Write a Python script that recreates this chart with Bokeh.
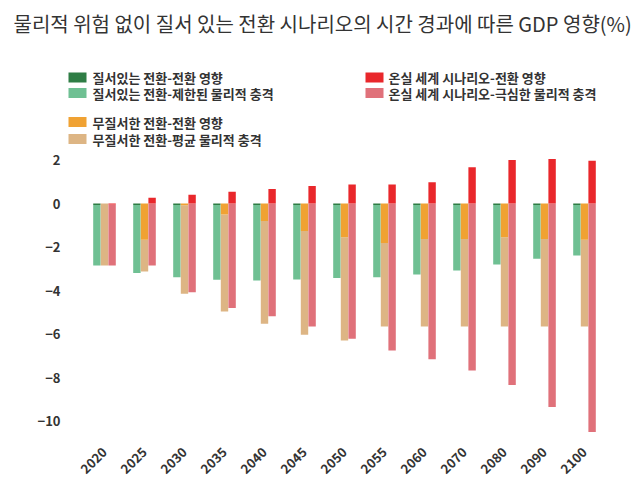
import math
from bokeh.plotting import figure
from bokeh.models import ColumnDataSource, Range1d, FixedTicker
from bokeh.core.properties import value
from bokeh.embed import file_html
from bokeh.resources import INLINE

# ---------------- data ----------------
years = ["2020", "2025", "2030", "2035", "2040", "2045", "2050",
         "2055", "2060", "2070", "2080", "2090", "2100"]

orderly_transition = [-0.07, -0.07, -0.07, -0.07, -0.07, -0.07, -0.07,
                      -0.07, -0.07, -0.07, -0.07, -0.07, -0.07]
orderly_physical = [-2.78, -3.12, -3.32, -3.44, -3.47, -3.42, -3.35,
                    -3.32, -3.19, -3.01, -2.73, -2.47, -2.32]

disorderly_transition = [0.0, -1.67, -0.08, -0.50, -0.81, -1.27, -1.55,
                         -1.82, -1.63, -1.63, -1.55, -1.63, -1.67]
disorderly_physical = [-2.85, -1.46, -4.07, -4.47, -4.72, -4.77, -4.75,
                       -3.84, -4.03, -4.03, -4.11, -4.03, -3.99]

hothouse_transition = [-0.05, 0.26, 0.40, 0.54, 0.67, 0.80, 0.87,
                       0.87, 0.98, 1.67, 2.00, 2.05, 1.96]
hothouse_physical = [-2.80, -2.85, -4.08, -4.80, -5.18, -5.66, -6.22,
                     -6.76, -7.16, -7.68, -8.34, -9.36, -10.51]

y_ticks = [-10, -8, -6, -4, -2, 0, 2]

title_text = "물리적 위험 없이 질서 있는 전환 시나리오의 시간 경과에 따른 GDP 영향(%)"
legend_labels = [
    "질서있는 전환-전환 영향",
    "질서있는 전환-제한된  물리적  충격",
    "무질서한 전환-전환 영향",
    "무질서한 전환-평균 물리적 충격",
    "온실 세계 시나리오-전환 영향",
    "온실 세계 시나리오-극심한 물리적 충격",
]

C_DKGREEN = "#2f7d45"
C_LTGREEN = "#6fc093"
C_ORANGE = "#f0a233"
C_TAN = "#ddb584"
C_RED = "#e9272b"
C_PINK = "#e0717a"
legend_colors = [C_DKGREEN, C_LTGREEN, C_ORANGE, C_TAN, C_RED, C_PINK]

FONT = "Noto Sans CJK KR"
TXT = "#333333"

# ---------------- page geometry (px) ----------------
PX_Y = 21.75          # px per % point
ZERO_Y = 203          # page y of 0
CAT_W = 40.0          # px per year slot
FIRST_X = 104         # page x of first year
FR_L, FR_R, FR_T, FR_B = 64, 630, 44, 440
W_FIG, H_FIG = 640, 491

def ydat(py):
    return (ZERO_Y - py) / PX_Y
def xdat(px):
    return (px - FIRST_X) / CAT_W

# ---------------- bars ----------------
idx = list(range(len(years)))

def stack(trans, phys):
    base = [min(t, 0.0) for t in trans]
    return base, [b + p for b, p in zip(base, phys)]

g_base, g_bot = stack(orderly_transition, orderly_physical)
d_base, d_bot = stack(disorderly_transition, disorderly_physical)
h_base, h_bot = stack(hothouse_transition, hothouse_physical)

OFF = 0.19
W = 0.185
src = ColumnDataSource(dict(
    xg=[i - OFF for i in idx], xd=[i for i in idx], xh=[i + OFF for i in idx],
    g_t=orderly_transition, g_base=g_base, g_bot=g_bot,
    d_t=disorderly_transition, d_base=d_base, d_bot=d_bot,
    h_t=hothouse_transition, h_base=h_base, h_bot=h_bot,
    zero=[0.0] * len(years),
))

p = figure(width=W_FIG, height=H_FIG,
           x_range=Range1d(xdat(FR_L), xdat(FR_R)),
           y_range=Range1d(ydat(FR_B), ydat(FR_T)),
           output_backend="svg", toolbar_location=None,
           min_border_left=FR_L, min_border_right=W_FIG - FR_R,
           min_border_top=FR_T, min_border_bottom=H_FIG - FR_B)
p.grid.visible = False
p.outline_line_color = None

p.vbar(x="xg", top="g_base", bottom="g_bot", width=W, source=src, fill_color=C_LTGREEN, line_color=None)
p.vbar(x="xg", top="zero", bottom="g_t", width=W, source=src, fill_color=C_DKGREEN, line_color=None)
p.vbar(x="xd", top="d_base", bottom="d_bot", width=W, source=src, fill_color=C_TAN, line_color=None)
p.vbar(x="xd", top="zero", bottom="d_t", width=W, source=src, fill_color=C_ORANGE, line_color=None)
p.vbar(x="xh", top="h_base", bottom="h_bot", width=W, source=src, fill_color=C_PINK, line_color=None)
p.vbar(x="xh", top="zero", bottom="h_t", width=W, source=src, fill_color=C_RED, line_color=None)

for ax in (p.xaxis[0], p.yaxis[0]):
    ax.axis_line_color = None
    ax.major_tick_line_color = None
    ax.minor_tick_line_color = None
    ax.major_label_text_font = FONT
    ax.major_label_text_font_size = "13px"
    ax.major_label_text_font_style = "bold"
    ax.major_label_text_color = TXT
    ax.major_tick_out = 0
    ax.major_tick_in = 0

p.yaxis.ticker = FixedTicker(ticks=y_ticks)
p.yaxis.major_label_standoff = 4
p.xaxis.ticker = FixedTicker(ticks=idx)
p.xaxis.major_label_overrides = {i: y for i, y in zip(idx, years)}
p.xaxis.major_label_standoff = 9
p.xaxis.major_label_orientation = math.pi / 4

# ---------------- title ----------------
p.title.text = title_text
p.title.text_font = FONT
p.title.text_font_size = "20px"
p.title.text_font_style = "normal"
p.title.text_color = TXT
p.title.align = "left"
p.title.offset = 13 - FR_L
p.title.standoff = 13

# ---------------- legend (drawn inside the frame) ----------------
sq_left = [68, 68, 68, 68, 365, 365]
tx_left = [92, 92, 92, 92, 388, 388]
row_y = [77, 92.5, 121.5, 138.5, 77, 92.5]
p.rect(x=[xdat(s + 9) for s in sq_left], y=[ydat(r) for r in row_y],
       width=18 / CAT_W, height=10 / PX_Y, fill_color=legend_colors,
       line_color=None)
p.text(x=[xdat(t) for t in tx_left], y=[ydat(r) for r in row_y],
       text=legend_labels, text_font=value(FONT), text_font_size="13px",
       text_font_style="bold", text_color=TXT, text_baseline="middle",
       text_align="left")

open("out.html", "w").write(file_html(p, INLINE))
